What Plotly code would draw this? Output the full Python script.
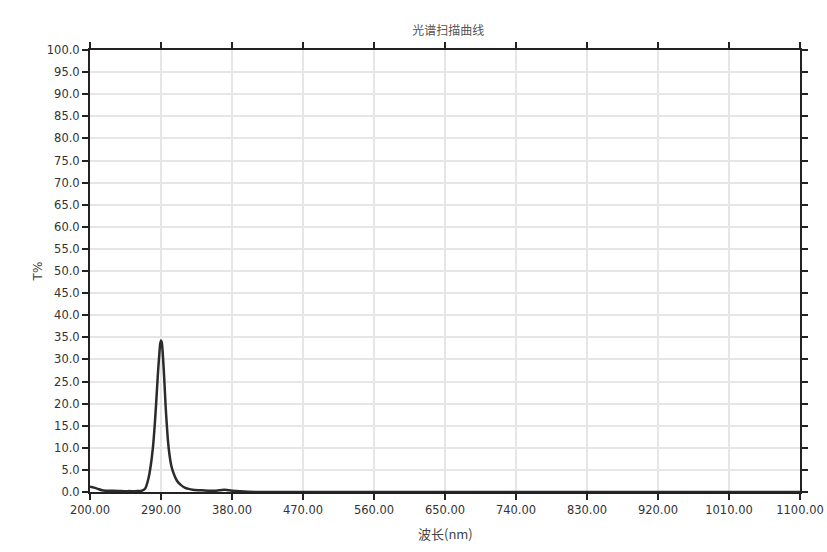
import plotly.graph_objects as go

wavelength = [200, 205, 210, 215, 220, 230, 240, 250, 260, 266, 270, 274, 277, 280, 282, 284, 286, 288, 289, 290, 291, 292, 294, 296, 298, 300, 303, 306, 310, 315, 320, 325, 330, 340, 350, 360, 370, 375, 380, 390, 400, 420, 450, 500, 600, 700, 800, 900, 1000, 1100]
transmittance = [1.2, 1.0, 0.7, 0.4, 0.3, 0.3, 0.2, 0.2, 0.2, 0.3, 0.8, 3.0, 6.0, 10.5, 15.0, 20.5, 26.5, 31.5, 33.5, 34.3, 33.8, 32.0, 26.0, 19.0, 13.5, 9.5, 6.0, 4.2, 2.6, 1.6, 1.0, 0.7, 0.5, 0.4, 0.3, 0.3, 0.5, 0.4, 0.3, 0.15, 0.05, 0.0, 0.0, 0.0, 0.0, 0.0, 0.0, 0.0, 0.0, 0.0]

x_ticks = [200 + 90 * i for i in range(11)]
x_labels = [f"{v:.2f}" for v in x_ticks]
y_ticks = [5 * i for i in range(21)]
y_labels = [f"{v:.1f}" for v in y_ticks]

fig = go.Figure()
fig.add_trace(go.Scatter(
    x=wavelength, y=transmittance, mode="lines",
    line=dict(color="#2b2b2b", width=2.5, shape="spline", smoothing=0.6),
    hoverinfo="x+y", showlegend=False,
))

axis_common = dict(
    showline=True, linecolor="#222", linewidth=2,
    mirror="ticks", ticks="outside", tickcolor="#222", ticklen=6, tickwidth=2,
    showgrid=True, gridcolor="#e6e6e6", gridwidth=1.5,
    zeroline=False, automargin=False,
    tickfont=dict(family="DejaVu Sans, Verdana, sans-serif", size=11.5, color="#333"),
)

fig.update_layout(
    width=827, height=552,
    paper_bgcolor="white", plot_bgcolor="white",
    margin=dict(l=90, r=27, t=50, b=60),
    title=dict(text="光谱扫描曲线", x=0.542, xanchor="center", y=0.944, yanchor="middle",
               automargin=False,
               font=dict(family="Noto Sans CJK SC", size=12, color="#555")),
    xaxis=dict(range=[200, 1100], tickvals=x_ticks, ticktext=x_labels, **axis_common),
    yaxis=dict(range=[0, 100], tickvals=y_ticks, ticktext=y_labels,
               title=dict(text="T%", standoff=2,
                          font=dict(family="DejaVu Sans, sans-serif", size=12, color="#444")),
               **axis_common),
    annotations=[dict(text="波长(nm)", x=0.5, y=0, xref="paper", yref="paper",
                      xanchor="center", yanchor="middle", yshift=-41, showarrow=False,
                      font=dict(family="Noto Sans CJK SC, DejaVu Sans", size=13, color="#444"))],
)

fig.write_html("out.html", config={"displayModeBar": False},
               post_script="document.body.style.margin='0px';document.body.style.overflow='hidden';")
